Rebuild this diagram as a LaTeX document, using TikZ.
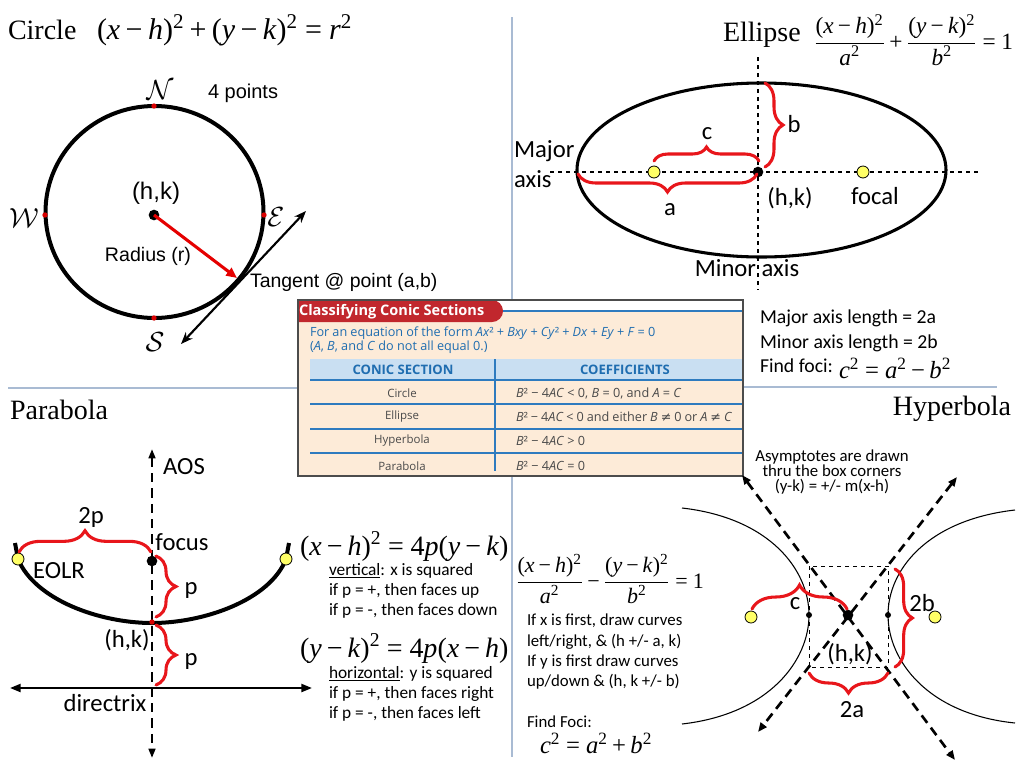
\documentclass[tikz,border=0pt]{standalone}
\usepackage{fontspec}
\setmainfont{Carlito}
\newfontfamily\tms{Liberation Serif}
\newfontfamily\arl{Liberation Sans}
\newfontfamily\ops{Open Sans}
\newfontfamily\dvs{DejaVu Sans}
\usetikzlibrary{arrows.meta,decorations.pathreplacing}
\definecolor{divc}{HTML}{A9BBD3}
\definecolor{peach}{HTML}{FDEBD8}
\definecolor{hdrblue}{HTML}{C9DFF2}
\definecolor{tblue}{HTML}{2E7BBF}
\definecolor{ttext}{HTML}{1F6DB0}
\definecolor{tred}{HTML}{C1272D}
\definecolor{bred}{HTML}{E8161B}
\definecolor{fyel}{HTML}{FFFF66}
\definecolor{tgray}{HTML}{4A4A4A}
\newcommand\fs[1]{\fontsize{#1}{#1}\selectfont}
\newcommand\mi{\hspace{0.18em}−\hspace{0.18em}}
\newcommand\pl{\hspace{0.18em}+\hspace{0.18em}}
\newcommand\eq{\hspace{0.24em}=\hspace{0.24em}}
\newcommand\sq{\textsuperscript{2}}
\newcommand\iv[1]{\textit{#1}}
\newcommand\neqs{{\dvs ≠}}
\newcommand\wb[2]{\makebox[#1][s]{#2}}
\newcommand\scr[1]{\ensuremath{\mathcal{#1}}}
\begin{document}
\begin{tikzpicture}[x=0.75pt,y=-0.75pt,
  txt/.style={inner sep=0pt,outer sep=0pt},
  cal/.style={txt,font=\fs{18.5}},
  cnote/.style={txt,font=\fs{13},anchor=base west},
  arl/.style={txt,font=\arl\fs{15}},
  ttl/.style={txt,font=\tms\fs{21},anchor=base west},
  scrl/.style={txt,font=\fs{22}},
  brc/.style={draw=bred,line width=2.3pt,line cap=round,decorate,decoration={brace,amplitude=#1}},
  ydot/.style={circle,fill=fyel,draw=black,line width=0.6pt,minimum size=9pt,inner sep=0pt},
  bdot/.style={circle,fill=black,minimum size=8pt,inner sep=0pt},
  sdot/.style={circle,fill=black,minimum size=4.5pt,inner sep=0pt},
  rdot/.style={circle,fill=red!85!black,minimum size=4pt,inner sep=0pt},
  tbl/.style={txt,font=\ops\fs{8.6},text=tgray},
  tco/.style={txt,font=\ops\fs{9.5},text=tgray,anchor=west},
  dasharrow/.style={line width=2pt,dash pattern=on 7pt off 4.5pt,{Triangle[length=7pt,width=5.5pt]}-{Triangle[length=7pt,width=5.5pt]}}
]
\useasboundingbox (0,0) rectangle (1024,768);
\fill[white] (0,0) rectangle (1024,768);

% dividers
\draw[divc,line width=1.4pt] (512,17) -- (512,300);
\draw[divc,line width=1.4pt] (512,477) -- (512,757);
\draw[divc,line width=1.1pt] (8,388) -- (298,388);
\draw[divc,line width=1.1pt] (743,387) -- (997,387);

% ================= CIRCLE =================
\node[ttl] (tcirc) at (8,39) {Circle};
\node[txt,font=\tms\fs{22.5},anchor=base west] (fcirc) at (97,39)
  {(\iv{x}\mi\iv{h})\sq\pl(\iv{y}\mi\iv{k})\sq\eq\iv{r}\sq};
\draw[line width=3pt] (154.5,212) ellipse (109 and 106);
\node[rdot] (pN) at (154,106) {};
\node[rdot] (pW) at (45,215) {};
\node[rdot] (pE) at (264,215) {};
\node[rdot] (pS) at (154,318) {};
\node[scrl] (lN) at (160,90) {\scr{N}};
\node[scrl] (lW) at (24,218) {\scr{W}};
\node[scrl] (lE) at (276,217) {\scr{E}};
\node[scrl] (lS) at (155,342) {\scr{S}};
\node[arl,anchor=base west] (fourp) at (208,98) {4 points};
\node[bdot] (cc) at (154,215) {};
\node[arl,font=\arl\fs{18}] (chk) at (156,193) {(h,k)};
\node[arl,font=\arl\fs{14.7}] (crad) at (148,256) {Radius (r)};
\coordinate (tp) at (237,278);
\coordinate (t1) at (181,344);
\coordinate (t2) at (306,211);
\draw[red!90!black,line width=2.3pt,-{Triangle[length=8pt,width=7pt]}] (cc.center) -- (tp);
\draw[line width=1.6pt,{Stealth[length=9pt,width=7pt]}-{Stealth[length=9pt,width=7pt]}] (t1) -- (t2);
\node[arl,font=\arl\fs{14.6},anchor=base west] (ctan) at (250,287) {Tangent @ point (a,b)};

% ================= ELLIPSE =================
\node[ttl] (tell) at (723,41) {Ellipse};
\node[txt,font=\tms\fs{17.5},anchor=west] (fell) at (814,40)
  {$\displaystyle\frac{\hbox{(\iv{x}\mi\iv{h})\sq}}{\hbox{\iv{a}\sq}}$\pl$\displaystyle\frac{\hbox{(\iv{y}\mi\iv{k})\sq}}{\hbox{\iv{b}\sq}}$\eq 1};
\draw[dashed,line width=0.8pt] (550,172) -- (980,172);
\draw[dashed,line width=0.8pt] (758,57) -- (758,290);
\draw[line width=2.3pt] (761.5,170) ellipse (184.5 and 87);
\node[ydot] (ef1) at (654,172) {};
\node[ydot] (ef2) at (863,172) {};
\node[bdot] (ec) at (758,172) {};
\draw[brc=10.5pt] (654,161) -- (759,161);
\draw[brc=13.5pt] (757,174) -- (578,174);
\draw[brc=13.5pt] (765,83) -- (765,167);
\node[cal] (lc) at (707,134) {c};
\node[cal] (lb) at (794,124) {b};
\node[cal] (la) at (670,210) {a};
\node[cal,anchor=base west] (lmaj) at (514,157) {Major};
\node[cal,anchor=base west] (lax) at (514,187) {axis};
\node[cal] (ehk) at (790,198) {(h,k)};
\node[cal] (efoc) at (875,196) {focal};
\node[cal] (emin) at (747,268) {Minor axis};
\node[txt,font=\fs{14.8},anchor=base west] (emaj) at (760,323) {Major axis length = 2a};
\node[txt,font=\fs{14.8},anchor=base west] (emin2) at (760,348) {Minor axis length = 2b};
\node[txt,font=\fs{14.8},anchor=base west] (efoci) at (760,372) {Find foci:};
\node[txt,font=\tms\fs{18.5},anchor=base west] (efor) at (839,378) {\iv{c}\sq\eq\iv{a}\sq\mi\iv{b}\sq};

% ================= TABLE =================
\fill[white] (298,300) rectangle (743,476);
\fill[peach] (298,311) rectangle (743,476);
\fill[hdrblue] (310,359) rectangle (743,380);
\draw[tblue,line width=1.4pt] (503,311) -- (743,311);
\draw[tblue,line width=1.8pt] (310,380) -- (743,380);
\foreach \yy in {404,429,453} \draw[tblue,line width=1.4pt] (310,\yy) -- (743,\yy);
\draw[tblue,line width=1.8pt] (495,359) -- (495,471);
\fill[tred] (298,322) -- (298,300) -- (492,300) arc(-90:90:11) -- cycle;
\draw[black!70,line width=0.9pt] (298,300) rectangle (743,476);
\node[txt,font=\ops\bfseries\fs{10.9},text=white,anchor=west] (thead) at (299,311.5) {Classifying Conic Sections};
\node[txt,font=\ops\fs{9.5},text=ttext,anchor=base west] (tintro) at (310,336)
  {\wb{259pt}{For an equation of the form \iv{Ax}² + \iv{Bxy} + \iv{Cy}² + \iv{Dx} + \iv{Ey} + \iv{F} = 0}};
\node[txt,font=\ops\fs{9.5},text=ttext,anchor=base west] (tintro2) at (310,350)
  {(\iv{A}, \iv{B}, and \iv{C} do not all equal 0.)};
\node[txt,font=\ops\bfseries\fs{9.8},text=ttext] (th1) at (403,370) {CONIC SECTION};
\node[txt,font=\ops\bfseries\fs{9.8},text=ttext] (th2) at (625,370) {COEFFICIENTS};
\node[tbl] (r1a) at (402,393) {Circle};
\node[tbl] (r2a) at (402,417) {Ellipse};
\node[tbl] (r3a) at (402,441) {Hyperbola};
\node[tbl] (r4a) at (402,466) {Parabola};
\node[tco] (r1b) at (516,393) {\iv{B}² − 4\iv{AC} < 0, \iv{B} = 0, and \iv{A} = \iv{C}};
\node[tco] (r2b) at (516,417) {\wb{162pt}{\iv{B}² − 4\iv{AC} < 0 and either \iv{B} \neqs{} 0 or \iv{A} \neqs{} \iv{C}}};
\node[tco] (r3b) at (516,441) {\iv{B}² − 4\iv{AC} > 0};
\node[tco] (r4b) at (516,466) {\iv{B}² − 4\iv{AC} = 0};

% ================= PARABOLA =================
\node[ttl] (tpar) at (10,419) {Parabola};
\coordinate (aosT) at (152,449);
\coordinate (aosB) at (152,758);
\draw[line width=2pt,dash pattern=on 7pt off 4.5pt,{Triangle[length=7pt,width=5pt]}-{Triangle[length=7pt,width=5pt]}] (aosT) -- (aosB);
\coordinate (dxL) at (10,688);
\coordinate (dxR) at (312,688);
\draw[line width=1.6pt,{Triangle[length=8pt,width=6pt]}-{Triangle[length=8pt,width=6pt]}] (dxL) -- (dxR);
\draw[line width=3pt] (15,543) -- (18,559) .. controls (35,600) and (100,623) .. (152,623)
   .. controls (204,623) and (270,600) .. (286,559) -- (289,543);
\node[ydot] (pe1) at (18,559) {};
\node[ydot] (pe2) at (286,559) {};
\node[bdot] (pfoc) at (152,561) {};
\node[rdot] (pv) at (152,622) {};
\draw[brc=16pt] (19,552) -- (151,552);
\draw[brc=15pt] (156,556) -- (156,617);
\draw[brc=15pt] (156,625) -- (156,685);
\node[cal] (paos) at (184,467) {AOS};
\node[cal] (p2p) at (91,517) {2p};
\node[cal] (pfl) at (182,542) {focus};
\node[cal] (peolr) at (59,571) {EOLR};
\node[cal] (pp1) at (191,590) {p};
\node[cal] (pp2) at (191,661) {p};
\node[cal] (phk) at (127,640) {(h,k)};
\node[cal] (pdir) at (105,703) {directrix};
\node[txt,font=\tms\fs{21},anchor=base west] (pf1) at (300,555) {(\iv{x}\mi\iv{h})\sq\eq 4\iv{p}(\iv{y}\mi\iv{k})};
\node[cnote] (pn1) at (329,575) {\underline{vertical}: x is squared};
\node[cnote] (pn2) at (329,595) {if p = +, then faces up};
\node[cnote] (pn3) at (329,615) {if p = -, then faces down};
\node[txt,font=\tms\fs{21},anchor=base west] (pf2) at (300,657) {(\iv{y}\mi\iv{k})\sq\eq 4\iv{p}(\iv{x}\mi\iv{h})};
\node[cnote] (pn4) at (329,678) {\underline{horizontal}: y is squared};
\node[cnote] (pn5) at (329,698) {if p = +, then faces right};
\node[cnote] (pn6) at (329,718) {if p = -, then faces left};

% ================= HYPERBOLA =================
\node[ttl,anchor=base east] (thyp) at (1011,415) {Hyperbola};
\node[txt,font=\tms\fs{16.5},anchor=west] (fhyp) at (516,579)
  {$\displaystyle\frac{\hbox{(\iv{x}\mi\iv{h})\sq}}{\hbox{\iv{a}\sq}}$\mi$\displaystyle\frac{\hbox{(\iv{y}\mi\iv{k})\sq}}{\hbox{\iv{b}\sq}}$\eq 1};
\node[cnote,font=\fs{12.6}] (hn1) at (527,625) {If x is first, draw curves};
\node[cnote,font=\fs{12.6}] (hn2) at (527,646) {left/right, \& (h +/- a, k)};
\node[cnote,font=\fs{12.6}] (hn3) at (527,666) {If y is first draw curves};
\node[cnote,font=\fs{12.6}] (hn4) at (527,686) {up/down \& (h, k +/- b)};
\node[cnote,font=\fs{12.6}] (hn5) at (527,727) {Find Foci:};
\node[txt,font=\tms\fs{18.5},anchor=base west] (hfor) at (540,753) {\iv{c}\sq\eq\iv{a}\sq\pl\iv{b}\sq};
\node[txt,font=\fs{12.6},align=center] (hasy) at (832,472) {Asymptotes are drawn\\[-1pt] thru the box corners\\[-1pt] (y-k) = +/- m(x-h)};
% branches
\draw[line width=0.8pt] (682,508) .. controls (770,518) and (809,570) .. (809,615)
   .. controls (809,660) and (770,714) .. (682,724);
\draw[line width=0.8pt] (1015,510) .. controls (927,520) and (888,570) .. (888,615)
   .. controls (888,660) and (927,714) .. (1015,723);
\draw[dashed,line width=0.7pt] (809,566) rectangle (888,667);
\coordinate (a1) at (742,475);
\coordinate (a2) at (955,760);
\coordinate (a3) at (957,477);
\coordinate (a4) at (758,732);
\draw[dasharrow] (a1) -- (a2);
\draw[dasharrow] (a3) -- (a4);
\node[ydot] (hf1) at (751,617) {};
\node[ydot] (hf2) at (935,617) {};
\node[sdot] (hv1) at (809,615) {};
\node[sdot] (hv2) at (888,615) {};
\node[bdot] (hc) at (848,615) {};
\draw[brc=18pt] (752,609) -- (847,609);
\draw[brc=13pt] (895,569) -- (895,667);
\draw[brc=15pt] (888,673) -- (809,673);
\node[cal] (hlc) at (795,604) {c};
\node[cal] (hl2b) at (922,603) {2b};
\node[cal] (hl2a) at (852,710) {2a};
\node[cal] (hhk) at (850,654) {(h,k)};
\end{tikzpicture}
\end{document}
